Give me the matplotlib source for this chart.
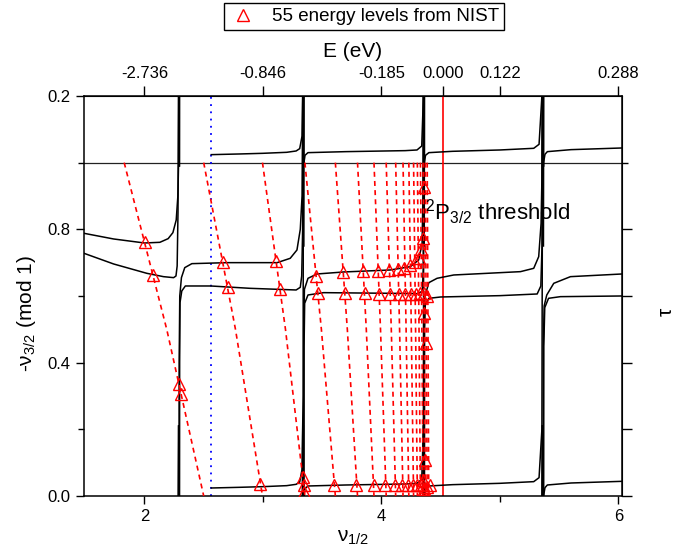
import matplotlib
matplotlib.use("Agg")
import matplotlib.pyplot as plt
from matplotlib.lines import Line2D

plt.rcParams['font.family'] = 'Liberation Sans'
plt.rcParams['mathtext.fontset'] = 'custom'
plt.rcParams['mathtext.rm'] = 'Liberation Sans'
plt.rcParams['mathtext.default'] = 'regular'

# Lu-Fano curves, one list pair per branch (x = nu_1/2, y = -nu_3/2 mod 1)
a0_x = [1.49, 1.74, 2.00, 2.13, 2.20, 2.24, 2.268, 2.282, 2.288, 2.290]
a0_y = [0.788, 0.771, 0.759, 0.761, 0.772, 0.790, 0.828, 0.900, 1.00, 1.21]
b0_x = [1.49, 1.74, 2.02, 2.16, 2.246, 2.266, 2.276, 2.283, 2.287]
b0_y = [0.728, 0.696, 0.668, 0.658, 0.655, 0.660, 0.690, 0.850, 1.21]

c1_x = [2.292, 2.293, 2.298, 2.312, 2.340, 2.40, 2.70, 3.12, 3.23, 3.287, 3.315, 3.330, 3.336]
c1_y = [-0.01, 0.40, 0.60, 0.655, 0.685, 0.697, 0.700, 0.700, 0.713, 0.738, 0.80, 0.90, 1.21]
d1_x = [2.296, 2.297, 2.300, 2.315, 2.345, 2.56, 2.89, 3.28, 3.315, 3.327, 3.335, 3.339]
d1_y = [-0.01, 0.40, 0.58, 0.615, 0.630, 0.630, 0.623, 0.618, 0.626, 0.66, 0.80, 1.21]
e1_x = [2.564, 2.80, 3.00, 3.20, 3.28, 3.31, 3.33, 3.339, 3.341]
e1_y = [0.024, 0.026, 0.028, 0.031, 0.035, 0.042, 0.08, 0.30, 1.21]

c2_x = [3.343, 3.344, 3.350, 3.380, 3.456, 3.68, 4.075, 4.244, 4.314, 4.343, 4.350, 4.353]
c2_y = [-0.01, 0.50, 0.62, 0.653, 0.666, 0.672, 0.678, 0.688, 0.708, 0.758, 0.90, 1.21]
d2_x = [3.346, 3.347, 3.352, 3.380, 3.512, 4.075, 4.31, 4.345, 4.353, 4.356]
d2_y = [-0.01, 0.45, 0.578, 0.603, 0.610, 0.608, 0.607, 0.615, 0.68, 1.21]
e2_x = [3.345, 3.346, 3.355, 3.38, 3.70, 4.20, 4.30, 4.34, 4.354, 4.357]
e2_y = [-0.25, 0.0, 0.022, 0.030, 0.033, 0.036, 0.038, 0.05, 0.20, 1.21]

c3_x = [4.360, 4.361, 4.366, 4.40, 4.469, 4.61, 5.173, 5.285, 5.327, 5.347, 5.354, 5.357]
c3_y = [-0.01, 0.50, 0.598, 0.640, 0.653, 0.663, 0.673, 0.683, 0.718, 0.818, 0.95, 1.21]
d3_x = [4.363, 4.364, 4.370, 4.40, 4.50, 5.00, 5.314, 5.345, 5.355, 5.359]
d3_y = [-0.01, 0.50, 0.575, 0.593, 0.597, 0.601, 0.606, 0.63, 0.75, 1.21]
e3_x = [4.361, 4.362, 4.372, 4.40, 4.60, 5.00, 5.285, 5.33, 5.354, 5.360]
e3_y = [-0.25, 0.0, 0.022, 0.030, 0.034, 0.038, 0.043, 0.055, 0.20, 1.21]

c4_x = [5.365, 5.366, 5.373, 5.395, 5.454, 5.595, 6.03]
c4_y = [-0.01, 0.45, 0.57, 0.603, 0.638, 0.658, 0.666]
d4_x = [5.369, 5.370, 5.378, 5.410, 5.51, 6.03]
d4_y = [-0.01, 0.45, 0.565, 0.593, 0.598, 0.600]
e4_x = [5.367, 5.368, 5.380, 5.40, 5.60, 6.03]
e4_y = [-0.25, 0.0, 0.025, 0.033, 0.039, 0.044]

branches = [(a0_x, a0_y), (b0_x, b0_y), (c1_x, c1_y), (d1_x, d1_y), (e1_x, e1_y),
            (c2_x, c2_y), (d2_x, d2_y), (e2_x, e2_y), (c3_x, c3_y), (d3_x, d3_y),
            (e3_x, e3_y), (c4_x, c4_y), (d4_x, d4_y), (e4_x, e4_y)]

# nu_1/2 where -nu_3/2 passes an integer (tooth tops) and half-integer (tooth middles)
tooth_top = [1.829, 2.500, 2.996, 3.354, 3.611, 3.798, 3.937, 4.040, 4.120, 4.182,
             4.231, 4.271, 4.303, 4.329, 4.351, 4.370, 4.386, 4.399]
tooth_mid = [2.188, 2.768, 3.190, 3.493, 3.712, 3.872, 3.992, 4.083, 4.153, 4.208,
             4.252, 4.288, 4.317, 4.341, 4.361, 4.378, 4.393]

# 55 NIST levels
nist_x = [2.007, 2.072, 2.293, 2.311, 2.663, 2.702, 3.113, 3.146, 2.978,
          3.336, 3.343, 3.349,
          3.450, 3.678, 3.847, 3.971, 4.065, 4.139, 4.194, 4.242, 4.285, 4.320, 4.337, 4.352, 4.356,
          3.465, 3.689, 3.858, 3.976, 4.069, 4.145, 4.202, 4.252, 4.295, 4.328, 4.360, 4.382,
          3.597, 3.788, 3.934, 4.033, 4.117, 4.176, 4.228, 4.270, 4.303, 4.331, 4.352, 4.385, 4.407,
          4.362, 4.377, 4.371, 4.351, 4.360]
nist_y = [0.763, 0.663, 0.335, 0.305, 0.703, 0.627, 0.704, 0.620, 0.035,
          0.058, 0.033, 0.012,
          0.660, 0.673, 0.675, 0.674, 0.679, 0.681, 0.684, 0.692, 0.702, 0.715, 0.740, 0.773, 0.926,
          0.610, 0.610, 0.608, 0.606, 0.606, 0.606, 0.606, 0.606, 0.607, 0.608, 0.610, 0.600,
          0.033, 0.033, 0.033, 0.033, 0.033, 0.033, 0.033, 0.033, 0.033, 0.033, 0.033, 0.028, 0.033,
          0.550, 0.458, 0.108, 0.048, 0.020]

nu_start = 2.564        # blue dotted marker
nu_threshold = 4.522    # 2P3/2 limit

top_pos = [2, 3, 4, nu_threshold, 5, 6]
top_labels = ['-2.736', '-0.846', '-0.185', '0.000', '0.122', '0.288']

fig = plt.figure(figsize=(6.87, 5.5), dpi=100)
ax = fig.add_axes([0.1223, 0.0982, 0.7831, 0.7273])

# mod-1 display: draw each branch shifted by -1, 0, +1 and let the axes clip
for bx, by in branches:
    for k in (-1, 0, 1):
        ax.plot(bx, [v + k for v in by], color='black', lw=1.1, zorder=3)

ax.axhline(1.0, color='#222222', lw=0.9, zorder=2)
ax.axvline(nu_start, color='blue', lw=1.3, ls=(0, (1, 3)), zorder=2)
ax.axvline(nu_threshold, color='red', lw=1.2, zorder=2)

for i in range(len(tooth_mid)):
    ax.plot([tooth_top[i], tooth_mid[i], tooth_top[i + 1]], [1.0, 0.5, 0.0],
            color='red', lw=1.2, dashes=(3, 2.5), zorder=4)

ax.plot(nist_x, nist_y, ls='none', marker='^', ms=8, mfc='none', mec='red',
        mew=1.0, zorder=5)

ax.text(4.371, 0.828, '$^{2}$P$_{3/2}$ threshold', fontsize=16, ha='left',
        va='baseline', zorder=6)

ax.set_xlim(1.49, 6.03)
ax.set_ylim(0, 1.2)
ax.set_xticks([2, 4, 6])
ax.set_xticks([3, 5], minor=True)
ax.set_yticks([0, 0.4, 0.8, 1.2], labels=['0.0', '0.4', '0.8', '0.2'])
ax.set_yticks([0.2, 0.6, 1.0], minor=True)
ax.tick_params(which='major', direction='out', length=6, width=1, labelsize=12,
               right=False, top=False)
ax.tick_params(which='minor', direction='out', length=4, width=1,
               right=False, top=False)
for s in ax.spines.values():
    s.set_linewidth(1.1)

ax.set_xlabel('ν$_{1/2}$', fontsize=15, labelpad=3)
ax.set_ylabel('-ν$_{3/2}$ (mod 1)', fontsize=15)
ax.yaxis.set_label_coords(-0.085, 0.457)

top = ax.secondary_xaxis('top')
top.set_xticks(top_pos, labels=top_labels)
top.tick_params(direction='out', length=7, width=1, labelsize=12)
top.set_xlabel('E (eV)', fontsize=15, labelpad=7)

right = ax.secondary_yaxis('right')
right.set_yticks([0, 0.2, 0.4, 0.6, 0.8], labels=[])
right.set_yticks([1.0], minor=True)
right.tick_params(which='major', direction='out', length=7, width=1)
right.tick_params(which='minor', direction='out', length=4, width=1)
right.set_ylabel('τ', fontsize=15)
right.yaxis.set_label_coords(657 / 687, 1 - 312 / 550, transform=fig.transFigure)

handle = Line2D([], [], ls='none', marker='^', ms=8, mfc='none', mec='red', mew=1.0)
fig.legend([handle], ['55 energy levels from NIST'], loc='center',
           bbox_to_anchor=(364 / 687, 1 - 16.5 / 550), fontsize=13.5,
           frameon=True, fancybox=False, edgecolor='black', framealpha=1,
           borderpad=0.25, handletextpad=0.8, handlelength=1.5)

fig.savefig('out.png', dpi=100)
